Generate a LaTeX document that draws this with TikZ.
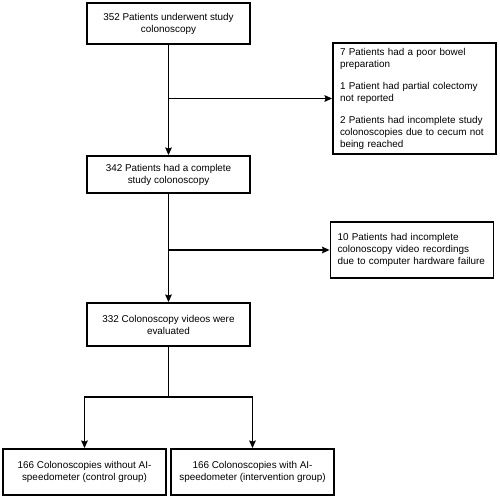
\documentclass[tikz,border=0pt]{standalone}
\usepackage{fontspec}
\setmainfont{Liberation Sans}
\usetikzlibrary{arrows.meta}

\tikzstyle{stage} = [rectangle, minimum width=163pt, minimum height=41pt, text centered, align=center, draw=black, line width=1.8pt, font=\fontsize{9.9}{12}\selectfont]
\tikzstyle{excluded} = [rectangle, minimum width=163pt, text width=149pt, inner xsep=7pt, align=left, draw=black, line width=1.8pt, font=\fontsize{9.9}{12}\selectfont]
\tikzstyle{arrow} = [line width=1.7pt,->,>={Stealth[length=7.5pt,width=6.5pt,inset=1pt]}]

\begin{document}
\begin{tikzpicture}[x=1pt, y=1pt, node distance=150pt]
		\useasboundingbox (0,0) rectangle (500,-498);
		\node (underwent) [stage] at (168.5,-23.5) {352 Patients underwent study\\colonoscopy};
		\node (complete) [stage, below of=underwent, yshift=-1pt, minimum height=37pt] {342 Patients had a complete\\study colonoscopy};
		\node (evaluated) [stage, below of=complete, minimum height=43pt] {332 Colonoscopy videos were\\evaluated};
		\node (control) [stage, below of=evaluated, xshift=-84pt, yshift=2.5pt, minimum height=46pt] {166 Colonoscopies without AI-\\speedometer (control group)};
		\node (intervention) [stage, below of=evaluated, xshift=84pt, yshift=2.5pt, minimum height=46pt] {166 Colonoscopies with AI-\\speedometer (intervention group)};
		
		\node (poorprep) [excluded, right of=underwent, xshift=96pt, yshift=-75pt, minimum height=111pt] {7 Patients had a poor bowel\\preparation\\[10pt]1 Patient had partial colectomy\\not reported\\[10pt]2 Patients had incomplete study\\colonoscopies due to cecum not\\being reached};
		\node (videofail) [excluded, right of=complete, xshift=93.5pt, yshift=-75.5pt, minimum height=56pt] {10 Patients had incomplete\\colonoscopy video recordings\\due to computer hardware failure};
		
		\coordinate (split1) at (underwent |- poorprep);
		\coordinate (split2) at (complete |- videofail);
		\node (split3) [coordinate, below of=evaluated, yshift=77.5pt] {};
		
		\draw [arrow] (underwent) -- (complete);
		\draw [arrow] (split1) -- (poorprep);
		\draw [arrow] (complete) -- (evaluated);
		\draw [arrow] (split2) -- (videofail);
		\draw [line width=1.7pt] (evaluated) -- (split3);
		\draw [arrow] (split3) -| (control);
		\draw [arrow] (split3) -| (intervention);
	
	\end{tikzpicture}
\end{document}
